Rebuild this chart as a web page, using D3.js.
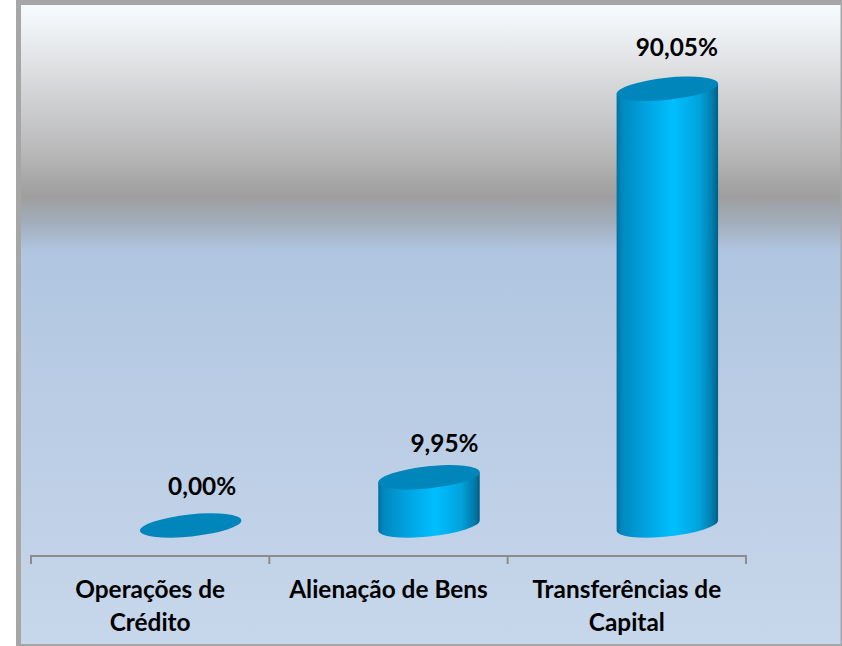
<!DOCTYPE html>
<html><head><meta charset="utf-8">
<script src="https://cdn.jsdelivr.net/npm/d3@7"></script>
<style>html,body{margin:0;padding:0;background:#fff}svg{display:block}</style>
</head><body><div id="c"></div>
<script>
const categories = [["Operações de","Crédito"],["Alienação de Bens"],["Transferências de","Capital"]];
const values = [0.00, 9.95, 90.05];
const valueLabels = ["0,00%","9,95%","90,05%"];
const W=842,H=646;
const svg=d3.select("#c").append("svg").attr("width",W).attr("height",H);
const defs=svg.append("defs");
const bg=defs.append("linearGradient").attr("id","bg").attr("x1",0).attr("x2",0).attr("y1",0).attr("y2",1);
[[0,"#f6fbff"],[.04,"#eef1f4"],[.15,"#cfd0d2"],[.23,"#b9b9ba"],[.27,"#a9a9aa"],[.3,"#9e9e9f"],[.34,"#a2adbb"],[.385,"#b0c6e0"],[.6,"#b9cce4"],[1,"#c7d7eb"]]
 .forEach(d=>bg.append("stop").attr("offset",d[0]).attr("stop-color",d[1]));
const side=defs.append("linearGradient").attr("id","side").attr("x1",0).attr("x2",1).attr("y1",0).attr("y2",0);
[[0,"#00709f"],[.05,"#0088bf"],[.3,"#00a4e2"],[.56,"#00bfff"],[.82,"#00a2dc"],[.95,"#0079a8"],[1,"#005f85"]]
 .forEach(d=>side.append("stop").attr("offset",d[0]).attr("stop-color",d[1]));
svg.append("rect").attr("x",16).attr("y",0).attr("width",826).attr("height",646).attr("fill","#a6a6a6");
svg.append("rect").attr("x",21).attr("y",5).attr("width",819.5).attr("height",639).attr("fill","url(#bg)");

const x=d3.scaleBand().domain(d3.range(categories.length)).range([31,746]).padding(0);
const y=d3.scaleLinear().domain([0,100]).range([525.5,40.5]);
const axisY=556, depthShift=40;
const ax=svg.append("g").attr("fill","none").attr("stroke","#8c8c8c").attr("stroke-width",2);
ax.append("line").attr("x1",x.range()[0]-1).attr("x2",x.range()[1]+1).attr("y1",axisY).attr("y2",axisY);
[...x.domain().map(d=>x(d)),x.range()[1]].forEach(t=>ax.append("line").attr("x1",t).attr("x2",t).attr("y1",axisY).attr("y2",axisY+8));

const rx=51,ry=11,rot=-6,th=rot*Math.PI/180;
const X=Math.sqrt(rx*rx*Math.cos(th)**2+ry*ry*Math.sin(th)**2);
const dy=(rx*rx-ry*ry)*Math.sin(th)*Math.cos(th)/X;
values.forEach((v,i)=>{
  const cx=x(i)+x.bandwidth()/2+depthShift+.5, t=y(v), b=y(0), g=svg.append("g");
  if(v>0){
    g.append("path").attr("fill","url(#side)")
     .attr("d",`M${cx-X},${t-dy}L${cx-X},${b-dy}A${rx},${ry} ${rot} 0 0 ${cx+X},${b+dy}L${cx+X},${t+dy}Z`);
  }
  g.append("ellipse").attr("cx",cx).attr("cy",t).attr("rx",rx).attr("ry",ry)
   .attr("transform",`rotate(${rot} ${cx} ${t})`).attr("fill","#0086bb");
});
const font='Lato,"Open Sans",sans-serif', fs=24.4;
svg.append("g").selectAll("text").data(valueLabels).join("text")
 .attr("x",(d,i)=>x(i)+x.bandwidth()/2+[52,56,50][i]).attr("y",(d,i)=>y(values[i])-[31,25,33][i])
 .attr("text-anchor","middle").attr("font-family",font).attr("font-weight",700).attr("font-size",fs).attr("fill","#000").text(d=>d);
categories.forEach((ls,i)=>ls.forEach((l,j)=>{
 svg.append("text").attr("x",x(i)+x.bandwidth()/2).attr("y",598+j*33).attr("text-anchor","middle")
  .attr("font-family",font).attr("font-weight",700).attr("font-size",fs).attr("fill","#000").text(l);
}));
</script></body></html>
